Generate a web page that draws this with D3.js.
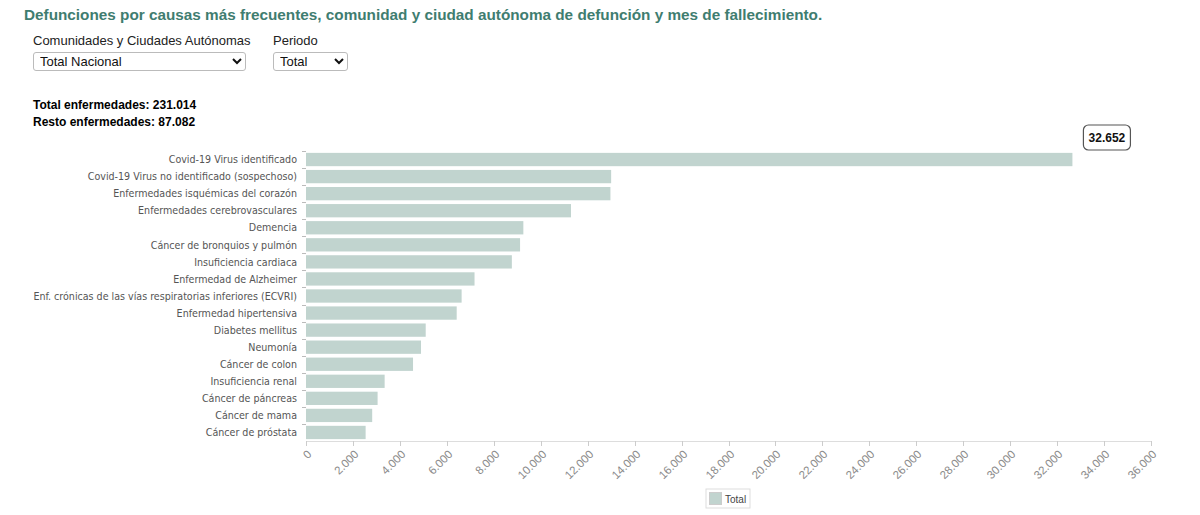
<!DOCTYPE html>
<html>
<head>
<meta charset="utf-8">
<script src="https://cdn.jsdelivr.net/npm/d3@7"></script>
<style>
  body { margin: 0; background: #fff; font-family: "Liberation Sans", Arial, sans-serif; }
  #wrap { position: relative; width: 1200px; height: 515px; overflow: hidden; }
  .lbl { position: absolute; font-size: 13px; color: #222; }
  select { position: absolute; font-family: "Liberation Sans", Arial, sans-serif; font-size: 13px;
           height: 19px; border: 1px solid #bbb; border-radius: 3px; background: #fff; color: #111; padding: 0 2px; }
  svg { position: absolute; left: 0; top: 0; }
</style>
</head>
<body>
<div id="wrap">
  <div class="lbl" style="left:33px; top:33px;">Comunidades y Ciudades Autónomas</div>
  <select style="left:33px; top:52px; width:213px;"><option>Total Nacional</option></select>
  <div class="lbl" style="left:273px; top:33px;">Periodo</div>
  <select style="left:273px; top:52px; width:75px;"><option>Total</option></select>
</div>
<script>
// causas de defunción (orden del gráfico) y número de defunciones
const causas = [
  "Covid-19 Virus identificado",
  "Covid-19 Virus no identificado (sospechoso)",
  "Enfermedades isquémicas del corazón",
  "Enfermedades cerebrovasculares",
  "Demencia",
  "Cáncer de bronquios y pulmón",
  "Insuficiencia cardiaca",
  "Enfermedad de Alzheimer",
  "Enf. crónicas de las vías respiratorias inferiores (ECVRI)",
  "Enfermedad hipertensiva",
  "Diabetes mellitus",
  "Neumonía",
  "Cáncer de colon",
  "Insuficiencia renal",
  "Cáncer de páncreas",
  "Cáncer de mama",
  "Cáncer de próstata"
];
const defunciones = [32652, 13000, 12970, 11290, 9260, 9120, 8770, 7180, 6630, 6420, 5100, 4900, 4560, 3350, 3050, 2820, 2540];
const totalEnfermedades = 231014;
const restoEnfermedades = 87082;
const xTicks = d3.range(0, 36001, 2000);
const serie = "Total";

const es = d3.formatLocale({decimal: ",", thousands: ".", grouping: [3], currency: ["", " €"]});
const fmt = es.format(",d");

const data = causas.map(function (c, i) { return {causa: c, valor: defunciones[i]}; });

const barColor = "#c1d4cf";

const svg = d3.select("#wrap").append("svg")
    .attr("width", 1200)
    .attr("height", 515);

svg.append("text")
    .attr("x", 24).attr("y", 20)
    .style("font-size", "15.3px").style("font-weight", "bold")
    .style("fill", "#3f7d70")
    .text("Defunciones por causas más frecuentes, comunidad y ciudad autónoma de defunción y mes de fallecimiento.");

svg.append("text")
    .attr("x", 33).attr("y", 109)
    .style("font-size", "12px").style("font-weight", "bold").style("fill", "#000")
    .text("Total enfermedades: " + fmt(totalEnfermedades));
svg.append("text")
    .attr("x", 33).attr("y", 126)
    .style("font-size", "12px").style("font-weight", "bold").style("fill", "#000")
    .text("Resto enfermedades: " + fmt(restoEnfermedades));

const x = d3.scaleLinear()
    .domain([0, 36000])
    .range([306, 1151]);

const y = d3.scaleBand()
    .domain(causas)
    .range([151, 441])
    .paddingInner(0.22)
    .paddingOuter(0.11);

// barras
svg.append("g").selectAll("rect")
    .data(data)
    .enter()
    .append("rect")
    .attr("x", x(0))
    .attr("y", function (d) { return y(d.causa); })
    .attr("width", function (d) { return x(d.valor) - x(0); })
    .attr("height", y.bandwidth())
    .attr("fill", barColor);

// eje Y: etiquetas y marcas en los bordes de cada banda
const yg = svg.append("g");
yg.selectAll("line")
    .data(causas)
    .enter()
    .append("line")
    .attr("x1", 302).attr("x2", 306)
    .attr("y1", function (d) { return Math.round(y(d) - y.step() * y.paddingInner() / 2) + 0.5; })
    .attr("y2", function (d) { return Math.round(y(d) - y.step() * y.paddingInner() / 2) + 0.5; })
    .attr("stroke", "#bbb");
yg.selectAll("text")
    .data(causas)
    .enter()
    .append("text")
    .attr("x", 297)
    .attr("y", function (d) { return y(d) + y.bandwidth() / 2; })
    .attr("dy", ".35em")
    .attr("text-anchor", "end")
    .style("font-family", "'DejaVu Sans Condensed', 'DejaVu Sans', sans-serif")
    .style("font-size", "10.6px")
    .style("fill", "#555")
    .text(function (d) { return d; });

// eje X
const xg = svg.append("g").attr("transform", "translate(0,441)");
xg.append("line")
    .attr("x1", x(0)).attr("x2", x(36000))
    .attr("y1", 0.5).attr("y2", 0.5)
    .attr("stroke", "#ddd");
const tk = xg.selectAll("g.tick")
    .data(xTicks)
    .enter()
    .append("g")
    .attr("class", "tick")
    .attr("transform", function (d) { return "translate(" + (Math.round(x(d)) + 0.5) + ",0)"; });
tk.append("line")
    .attr("y1", 0).attr("y2", 5)
    .attr("stroke", "#ccc");
tk.append("text")
    .attr("transform", "translate(3,11) rotate(-45)")
    .attr("text-anchor", "end")
    .attr("dy", ".35em")
    .style("font-size", "11.5px")
    .style("fill", "#8a8a8a")
    .text(function (d) { return fmt(d); });

// etiqueta del valor máximo
const maxD = data[0];
const tipX = x(maxD.valor) + 11, tipY = 125;
svg.append("rect")
    .attr("x", tipX).attr("y", tipY)
    .attr("width", 47).attr("height", 25)
    .attr("rx", 5)
    .attr("fill", "#fff")
    .attr("stroke", "#555")
    .attr("stroke-width", 1.2);
svg.append("text")
    .attr("x", tipX + 23.5).attr("y", tipY + 17)
    .attr("text-anchor", "middle")
    .style("font-size", "12px").style("font-weight", "bold").style("fill", "#111")
    .text(fmt(maxD.valor));

// leyenda
const lg = svg.append("g").attr("transform", "translate(706,489)");
lg.append("rect")
    .attr("width", 44).attr("height", 19)
    .attr("fill", "#fff").attr("stroke", "#ddd");
lg.append("rect")
    .attr("x", 3.5).attr("y", 3.5)
    .attr("width", 12).attr("height", 12)
    .attr("fill", barColor).attr("stroke", "#ccc");
lg.append("text")
    .attr("x", 19).attr("y", 13.5)
    .style("font-size", "10px").style("fill", "#444")
    .text(serie);
</script>
</body>
</html>
